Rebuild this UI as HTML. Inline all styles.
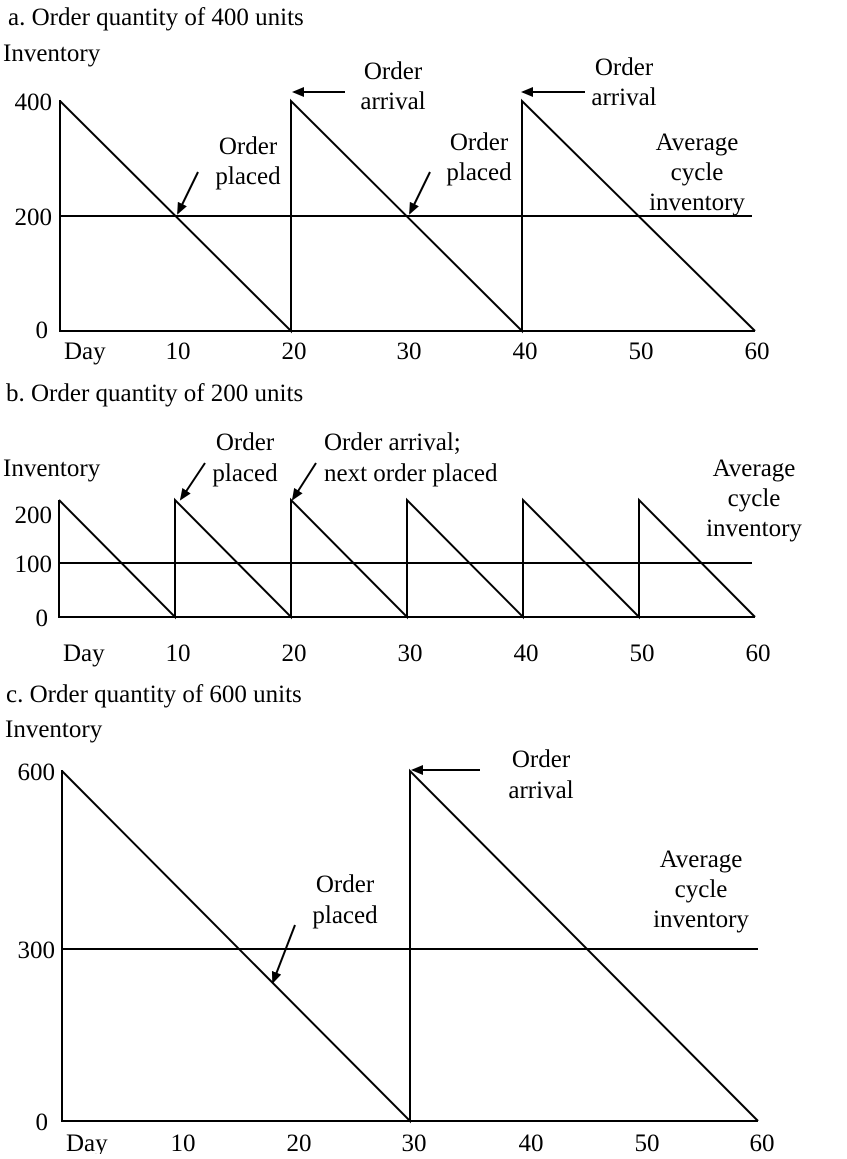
<!DOCTYPE html>
<html><head><meta charset="utf-8"><style>
body{margin:0;background:#fff;}
svg text{font-family:"Liberation Serif",serif;font-size:25px;fill:#000;}
</style></head><body>
<svg width="847" height="1154" viewBox="0 0 847 1154" xmlns="http://www.w3.org/2000/svg">
<defs><marker id="ah" markerWidth="12" markerHeight="10" refX="10" refY="5" orient="auto" markerUnits="userSpaceOnUse"><path d="M0,0 L12,5 L0,10 z" fill="#000"/></marker></defs>
<g stroke="#000" stroke-width="2" fill="none">
<polyline points="60,100 60,331 755,331"/>
<line x1="60" y1="216" x2="752" y2="216"/>
<polyline points="60,101 291,331 291,101 522,331 522,101 755,331"/>
<line x1="198" y1="172" x2="178" y2="213" marker-end="url(#ah)"/>
<line x1="430" y1="172" x2="410" y2="213" marker-end="url(#ah)"/>
<line x1="345" y1="92" x2="294" y2="92" marker-end="url(#ah)"/>
<line x1="585" y1="92" x2="523" y2="92" marker-end="url(#ah)"/>
<polyline points="59,500 59,617 755,617"/>
<line x1="59" y1="563" x2="752" y2="563"/>
<polyline points="59,500 175,617 175,500 291,617 291,500 407,617 407,500 523,617 523,500 639,617 639,500 755,617"/>
<line x1="205" y1="463" x2="181" y2="499" marker-end="url(#ah)"/>
<line x1="316" y1="463" x2="293" y2="499" marker-end="url(#ah)"/>
<polyline points="62,770 62,1121 758,1121"/>
<line x1="62" y1="949" x2="758" y2="949"/>
<polyline points="62,771 410,1121 410,771 758,1121"/>
<line x1="480" y1="770" x2="413" y2="770" marker-end="url(#ah)"/>
<line x1="295" y1="925" x2="273" y2="982" marker-end="url(#ah)"/>
</g>
<text x="8" y="25">a. Order quantity of 400 units</text>
<text x="3" y="61">Inventory</text>
<text x="52" y="110" text-anchor="end">400</text>
<text x="52" y="225" text-anchor="end">200</text>
<text x="48" y="338" text-anchor="end">0</text>
<text x="64" y="359">Day</text>
<text x="178" y="359" text-anchor="middle">10</text>
<text x="294" y="359" text-anchor="middle">20</text>
<text x="409" y="359" text-anchor="middle">30</text>
<text x="525" y="359" text-anchor="middle">40</text>
<text x="641" y="359" text-anchor="middle">50</text>
<text x="757" y="359" text-anchor="middle">60</text>
<text x="248" y="154" text-anchor="middle">Order</text>
<text x="248" y="184" text-anchor="middle">placed</text>
<text x="479" y="150" text-anchor="middle">Order</text>
<text x="479" y="180" text-anchor="middle">placed</text>
<text x="393" y="79" text-anchor="middle">Order</text>
<text x="393" y="109" text-anchor="middle">arrival</text>
<text x="624" y="75" text-anchor="middle">Order</text>
<text x="624" y="105" text-anchor="middle">arrival</text>
<text x="697" y="150" text-anchor="middle">Average</text>
<text x="697" y="180" text-anchor="middle">cycle</text>
<text x="697" y="210" text-anchor="middle">inventory</text>
<text x="6" y="401">b. Order quantity of 200 units</text>
<text x="3" y="476">Inventory</text>
<text x="52" y="523" text-anchor="end">200</text>
<text x="52" y="572" text-anchor="end">100</text>
<text x="48" y="626" text-anchor="end">0</text>
<text x="63" y="661">Day</text>
<text x="178" y="661" text-anchor="middle">10</text>
<text x="294" y="661" text-anchor="middle">20</text>
<text x="410" y="661" text-anchor="middle">30</text>
<text x="526" y="661" text-anchor="middle">40</text>
<text x="642" y="661" text-anchor="middle">50</text>
<text x="758" y="661" text-anchor="middle">60</text>
<text x="245" y="450" text-anchor="middle">Order</text>
<text x="245" y="481" text-anchor="middle">placed</text>
<text x="324" y="450">Order arrival;</text>
<text x="324" y="481">next order placed</text>
<text x="754" y="476" text-anchor="middle">Average</text>
<text x="754" y="506" text-anchor="middle">cycle</text>
<text x="754" y="536" text-anchor="middle">inventory</text>
<text x="6" y="702">c. Order quantity of 600 units</text>
<text x="5" y="737">Inventory</text>
<text x="55" y="780" text-anchor="end">600</text>
<text x="55" y="958" text-anchor="end">300</text>
<text x="48" y="1130" text-anchor="end">0</text>
<text x="66" y="1151">Day</text>
<text x="183" y="1151" text-anchor="middle">10</text>
<text x="299" y="1151" text-anchor="middle">20</text>
<text x="414" y="1151" text-anchor="middle">30</text>
<text x="531" y="1151" text-anchor="middle">40</text>
<text x="647" y="1151" text-anchor="middle">50</text>
<text x="762" y="1151" text-anchor="middle">60</text>
<text x="541" y="767" text-anchor="middle">Order</text>
<text x="541" y="798" text-anchor="middle">arrival</text>
<text x="345" y="892" text-anchor="middle">Order</text>
<text x="345" y="923" text-anchor="middle">placed</text>
<text x="701" y="867" text-anchor="middle">Average</text>
<text x="701" y="897" text-anchor="middle">cycle</text>
<text x="701" y="927" text-anchor="middle">inventory</text>
</svg>
</body></html>
